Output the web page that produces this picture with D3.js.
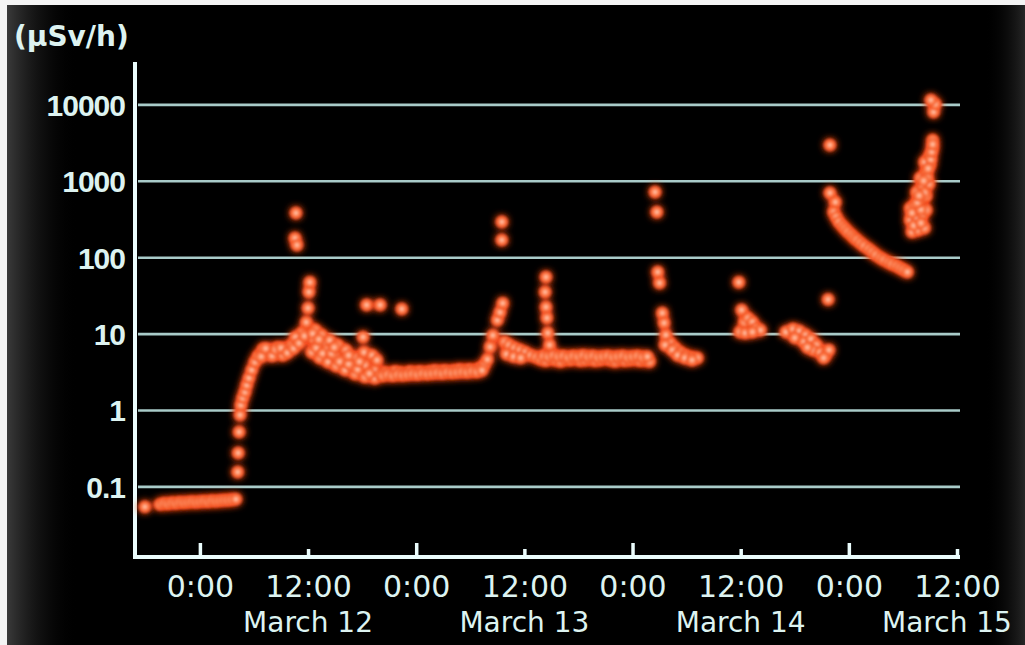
<!DOCTYPE html>
<html><head><meta charset="utf-8">
<script src="https://cdn.jsdelivr.net/npm/d3@7"></script>
<style>html,body{margin:0;padding:0;background:#fff;overflow:hidden}</style>
</head><body><svg id="c" width="1025" height="645"></svg>
<script>
// ---- labels / ticks ----
const unitLabel = "(μSv/h)";
const yTickValues = [0.1, 1, 10, 100, 1000, 10000];
const yTickLabels = ["0.1", "1", "10", "100", "1000", "10000"];
const xTickHours = [0, 12, 24, 36, 48, 60, 72, 84];            // hours after 2011-03-12 0:00
const xTickLabels = ["0:00", "12:00", "0:00", "12:00", "0:00", "12:00", "0:00", "12:00"];
const dateLabelHours = [12, 36, 60, 84];
const dateLabels = ["March 12", "March 13", "March 14", "March 15"];

// ---- data: [hours after 2011-03-12 0:00, μSv/h] ----
const mar11Evening = [[-6.1,0.054],[-4.44,0.058],[-4.0,0.060],[-3.55,0.059],[-3.1,0.061],[-2.66,0.060],[-2.22,0.062],[-1.78,0.061],[-1.33,0.062],[-0.89,0.063],[-0.44,0.062],[0,0.063],[0.44,0.064],[0.89,0.063],[1.33,0.065],[1.78,0.064],[2.22,0.065],[2.66,0.066],[3.1,0.066],[3.55,0.067],[4.0,0.068]];
const mar12Rise = [[4.2,0.154],[4.25,0.274],[4.35,0.515],[4.45,0.86],[4.55,1.16],[4.75,1.44],[5.0,1.72],[5.2,2.12],[5.45,2.62],[5.75,3.34],[6.1,4.25],[6.45,5.1],[6.9,5.6],[7.0,6.3],[7.55,5.7],[7.9,6.0],[8.2,5.4],[8.6,6.6],[8.9,5.7],[9.2,5.2],[9.5,6.1],[9.9,6.6],[10.2,7.1],[10.8,8.2],[11.3,10.2],[11.8,14.1],[12.0,21.6],[12.1,35],[12.2,47],[6.8,5.0],[7.3,6.4],[8.0,5.1],[8.4,6.2],[9.0,6.5],[9.7,5.6],[10.4,6.4],[10.6,9.0],[11.0,7.5],[11.6,9.3]];
const mar12Spike = [[10.66,379],[10.55,178],[10.77,144]];
const mar12Decline = [[12.6,8.5],[12.8,11.2],[13.5,9.6],[13.8,7.5],[14.4,8.2],[15.3,7.1],[16.2,6.1],[17.2,4.8],[18.3,3.9],[19.4,3.3],[12.4,5.7],[13.3,4.8],[14.2,4.25],[15.1,3.77],[16.1,3.34],[17.2,2.96],[18.3,2.7],[19.4,2.6],[13.1,7.1],[14.0,6.1],[15.0,5.1],[15.9,4.5],[16.9,3.77],[18.1,9.0],[18.2,5.7],[19.1,5.2],[19.65,4.5],[12.9,6.5],[13.6,5.5],[14.6,5.5],[15.5,4.3],[16.5,4.0],[17.5,3.4],[18.8,3.0],[17.7,4.3],[14.9,6.6],[16.5,5.2],[12.5,10],[13.2,8.4]];
const mar12Outliers = [[18.5,23.7],[20.0,23.7],[22.4,21.0]];
const mar12Night = [[20.0,2.9],[20.55,3.1],[21.1,3.0],[21.65,3.2],[22.2,3.1],[22.75,3.0],[23.3,3.2],[23.85,3.1],[24.4,3.2],[24.95,3.1],[25.5,3.2],[26.05,3.3],[26.6,3.2],[27.15,3.3],[27.7,3.2],[28.25,3.3],[28.8,3.4],[29.35,3.3],[29.9,3.4],[30.45,3.3],[31.0,3.5],[31.55,3.9],[20.3,2.8],[20.85,2.9],[21.4,2.8],[21.95,2.9],[22.5,2.85],[23.05,2.9],[23.6,2.95],[24.15,2.9],[24.7,3.0],[25.25,2.95],[25.8,3.0],[26.35,3.05],[26.9,3.0],[27.45,3.1],[28.0,3.05],[28.55,3.1],[29.1,3.15],[29.65,3.1],[30.2,3.2],[30.75,3.15],[31.3,3.3]];
const mar13Rise = [[31.9,4.6],[32.2,6.7],[32.5,9.5],[33.0,15],[33.3,19],[33.6,25]];
const mar13Spike = [[33.5,290],[33.5,168]];
const mar13Day = [[33.8,7.8],[34.3,7.1],[34.9,6.5],[35.5,6.1],[36.1,5.7],[36.7,5.2],[37.3,4.9],[34.0,5.4],[34.8,5.0],[35.6,4.8],[37.8,4.6],[38.35,4.4],[38.9,4.7],[39.45,4.5],[40.0,4.3],[40.55,4.6],[41.1,4.5],[41.65,4.7],[42.2,4.4],[42.75,4.5],[43.3,4.6],[43.85,4.4],[44.4,4.5],[44.95,4.7],[45.5,4.5],[46.05,4.3],[46.6,4.6],[47.15,4.4],[47.7,4.5],[48.25,4.6],[48.8,4.4],[49.35,4.5],[49.9,4.3],[38.1,5.1],[38.65,5.0],[39.2,5.2],[39.75,5.0],[40.3,5.1],[40.85,4.9],[41.4,5.1],[41.95,5.0],[42.5,5.2],[43.05,5.0],[43.6,5.1],[44.15,4.9],[44.7,5.0],[45.25,5.1],[45.8,4.9],[46.35,5.0],[46.9,5.1],[47.45,4.9],[48.0,5.0],[48.55,5.1],[49.1,4.9],[49.65,5.0]];
const mar13Column = [[38.4,55],[38.3,35],[38.4,22.3],[38.5,16],[38.6,10.2],[38.8,7.1]];
const mar14Spike = [[50.5,713],[50.7,390]];
const mar14Decline = [[50.8,64],[51.0,46],[51.3,18.6],[51.5,13.8],[51.7,9.6],[52.2,7.5],[52.7,6.5],[53.3,5.7],[53.9,5.2],[54.6,4.9],[55.2,4.8],[51.6,7.1],[52.4,6.1],[53.0,5.2],[53.8,4.8],[54.6,4.5]];
const mar14Midday = [[59.8,47],[60.1,20.4],[59.9,10.5],[60.4,14.2],[60.8,16],[61.3,14.2],[61.7,11.8],[62.2,11.1],[60.5,10.2],[61.3,10.5]];
const mar14Evening = [[65.0,10.5],[65.8,11.5],[66.5,10.8],[67.2,9.6],[66.0,8.8],[67.0,7.8],[67.8,8.5],[68.4,7.1],[68.0,6.1],[68.8,5.7],[69.4,5.2],[69.8,6.1],[67.4,6.6],[69.2,4.8],[69.7,28]];
const mar15Spike = [[69.9,2940],[69.9,695]];
const mar15Decline = [[70.5,527],[70.3,391],[70.6,336],[70.9,289],[71.3,256],[71.6,234],[71.9,214],[72.3,195],[72.6,178],[72.9,168],[73.3,153],[73.7,140],[74.2,128],[74.6,117],[75.0,107],[75.5,98],[75.9,92],[76.4,86],[76.8,81],[77.3,77],[77.7,72],[78.1,68],[78.5,64]];
const mar15Rise = [[79.0,214],[79.7,227],[80.4,241],[78.8,307],[79.5,326],[80.2,367],[80.6,415],[78.8,440],[79.3,482],[79.9,561],[80.6,632],[79.5,713],[80.2,855],[80.9,908],[79.9,1089],[80.6,1304],[81.0,1610],[80.4,1762],[81.0,2178],[81.3,2688],[81.3,3420],[81.4,7950],[81.6,10100],[81.1,11400],[79.2,260],[80.0,280],[79.0,380],[80.0,420],[79.6,520],[80.4,700],[79.8,640],[80.7,1100],[80.3,1000],[81.1,1900],[80.8,1450],[81.2,2400],[81.3,3000]];

const allSeries = [mar11Evening, mar12Rise, mar12Spike, mar12Decline, mar12Outliers, mar12Night,
  mar13Rise, mar13Spike, mar13Day, mar13Column, mar14Spike, mar14Decline, mar14Midday,
  mar14Evening, mar15Spike, mar15Decline, mar15Rise];

// ---- drawing ----
const BASE = Date.UTC(2011, 2, 12, 0, 0);
const t = h => new Date(BASE + h * 3600e3);
const W = 1025, H = 645;
const svg = d3.select("#c");
const defs = svg.append("defs");

const rg = defs.append("radialGradient").attr("id", "dot");
rg.append("stop").attr("offset", "0%").attr("stop-color", "#ffd2bc");
rg.append("stop").attr("offset", "40%").attr("stop-color", "#ff8656");
rg.append("stop").attr("offset", "78%").attr("stop-color", "#f45a28").attr("stop-opacity", 0.75);
rg.append("stop").attr("offset", "100%").attr("stop-color", "#e0401a").attr("stop-opacity", 0);

const glow = defs.append("filter").attr("id", "glow")
  .attr("x", "-10%").attr("y", "-10%").attr("width", "120%").attr("height", "120%");
glow.append("feGaussianBlur").attr("in", "SourceGraphic").attr("stdDeviation", 3.5).attr("result", "b");
glow.append("feColorMatrix").attr("in", "b").attr("type", "matrix")
  .attr("values", "1 0 0 0 0  0 0.45 0 0 0  0 0 0.3 0 0  0 0 0 1.6 0").attr("result", "g");
glow.append("feGaussianBlur").attr("in", "SourceGraphic").attr("stdDeviation", 0.8).attr("result", "s");
const fm = glow.append("feMerge");
fm.append("feMergeNode").attr("in", "g");
fm.append("feMergeNode").attr("in", "s");

const lg = defs.append("linearGradient").attr("id", "leftfade");
lg.append("stop").attr("offset", "0%").attr("stop-color", "#3a3a3a");
lg.append("stop").attr("offset", "100%").attr("stop-color", "#000").attr("stop-opacity", 0);
const rgR = defs.append("linearGradient").attr("id", "rightfade");
rgR.append("stop").attr("offset", "0%").attr("stop-color", "#000").attr("stop-opacity", 0);
rgR.append("stop").attr("offset", "100%").attr("stop-color", "#262626");

svg.append("rect").attr("width", W).attr("height", H).attr("fill", "#f4f4f4");
svg.append("rect").attr("x", 7).attr("y", 5).attr("width", W - 7).attr("height", H - 5).attr("fill", "#000");
svg.append("rect").attr("x", 7).attr("y", 5).attr("width", 70).attr("height", H - 5).attr("fill", "url(#leftfade)");
svg.append("rect").attr("x", 985).attr("y", 5).attr("width", 40).attr("height", H - 5).attr("fill", "url(#rightfade)");

const x = d3.scaleUtc().domain([t(-7.2), t(84)]).range([135, 957]);
const y = d3.scaleLog().domain([0.0119, 35900]).range([557, 62]);

const textCol = "#ddf3f1";

// gridlines + y labels
const yAxis = d3.axisLeft(y).tickValues(yTickValues)
  .tickFormat((d, i) => yTickLabels[i]).tickSize(-822).tickPadding(13);
const gy = svg.append("g").attr("transform", "translate(138,0)").call(yAxis);
gy.select(".domain").remove();
gy.selectAll(".tick line").attr("stroke", "#a9cbc9").attr("stroke-width", 2.6);
gy.selectAll(".tick text").attr("fill", textCol)
  .attr("font-family", "'Liberation Sans', Arial, sans-serif")
  .attr("font-weight", "bold").attr("font-size", 30).attr("letter-spacing", -1)
  .attr("dy", "0.36em");

// unit label
svg.append("text").attr("x", 14).attr("y", 46).text(unitLabel)
  .attr("fill", textCol).attr("font-family", "'DejaVu Sans', sans-serif")
  .attr("font-weight", "bold").attr("font-size", 28);

// x axis
const xAxis = d3.axisBottom(x).tickValues(xTickHours.map(t))
  .tickFormat((d, i) => xTickLabels[i]).tickSizeInner(-13).tickSizeOuter(0);
const gx = svg.append("g").attr("transform", "translate(0,557)").call(xAxis);
gx.select(".domain").remove();
gx.selectAll(".tick line").attr("stroke", "#eafcfc").attr("stroke-width", 3.5)
  .attr("y2", (d, i) => xTickHours[i] % 24 === 0 ? -14 : -8);
gx.selectAll(".tick text").attr("fill", textCol)
  .attr("font-family", "'DejaVu Sans', sans-serif").attr("font-size", 30)
  .attr("y", 40).attr("dy", null);

svg.append("g").selectAll("text").data(dateLabelHours).join("text")
  .attr("x", (d, i) => x(t(d)) - (i === 3 ? 10 : 0)).attr("y", 632)
  .attr("text-anchor", "middle").attr("fill", textCol)
  .attr("font-family", "'DejaVu Sans', sans-serif").attr("font-size", 28)
  .text((d, i) => dateLabels[i]);

// axis lines
svg.append("line").attr("x1", 135).attr("x2", 135).attr("y1", 62).attr("y2", 559)
  .attr("stroke", "#eafcfc").attr("stroke-width", 4);
svg.append("line").attr("x1", 133).attr("x2", 960).attr("y1", 557).attr("y2", 557)
  .attr("stroke", "#eafcfc").attr("stroke-width", 4);

// dots
const dots = svg.append("g").attr("filter", "url(#glow)");
allSeries.forEach(s => {
  dots.append("g").selectAll("circle").data(s).join("circle")
    .attr("cx", d => x(t(d[0]))).attr("cy", d => y(d[1]))
    .attr("r", 7).attr("fill", "url(#dot)");
});
</script>
</body></html>
